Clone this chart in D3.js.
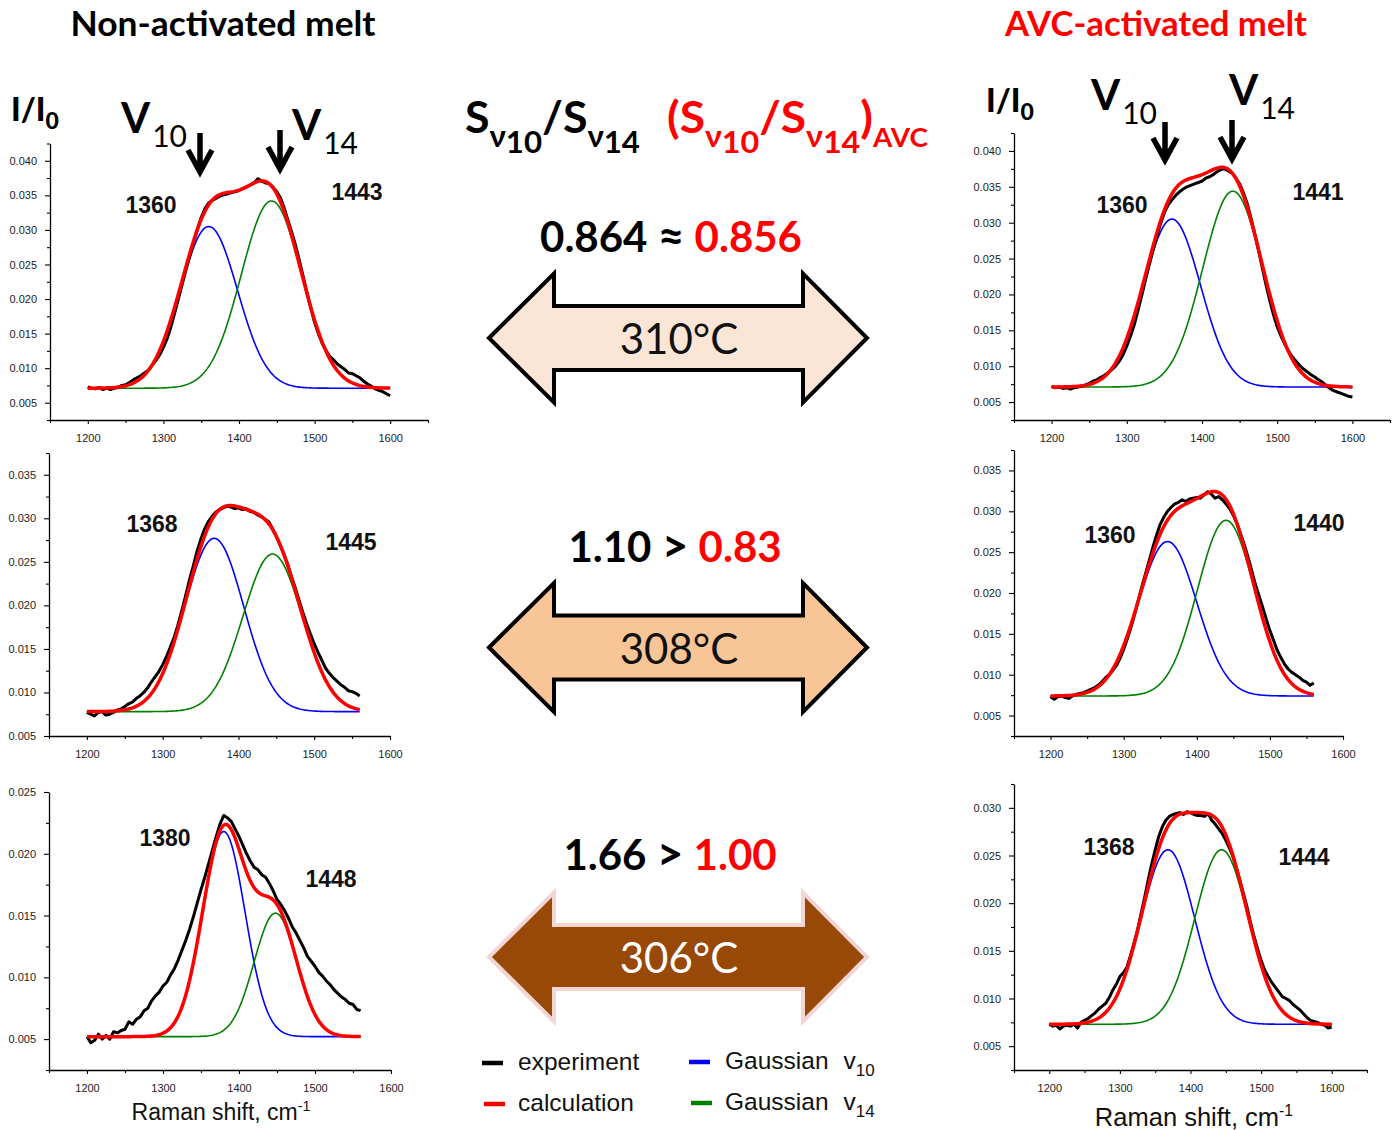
<!DOCTYPE html>
<html>
<head>
<meta charset="utf-8">
<script src="https://cdn.jsdelivr.net/npm/d3@7"></script>
<style>
  body { margin: 0; background: #fff; }
  svg { display: block; }
  .tick text { font-family: "Liberation Sans", Arial, sans-serif; font-size: 11px; fill: #222; }
</style>
</head>
<body>
<svg id="fig" width="1399" height="1130"></svg>
<script>
// Raman spectra, I/I0 sampled every 5 cm-1 starting at 1200 cm-1
const shiftStart = 1200;
const shiftStep = 5;

// non-activated melt: 310, 308, 306 °C
const expNon310 = [
  .0073,.0071,.0070,.0072,.0069,.0071,.0069,.0071,.0072,.0075,
  .0076,.0079,.0083,.0086,.0089,.0093,.0097,.0104,.0111,.0119,
  .0130,.0143,.0160,.0180,.0201,.0222,.0243,.0262,.0282,.0301,
  .0318,.0331,.0339,.0343,.0346,.0349,.0351,.0352,.0354,.0355,
  .0357,.0360,.0362,.0365,.0368,.0374,.0371,.0368,.0367,.0362,
  .0355,.0346,.0331,.0313,.0296,.0277,.0255,.0232,.0209,.0187,
  .0166,.0150,.0136,.0126,.0117,.0112,.0106,.0102,.0098,.0093,
  .0092,.0089,.0086,.0081,.0077,.0074,.0070,.0068,.0066,.0063,
  .0060];
const expNon308 = [
  .0077,.0075,.0073,.0077,.0078,.0074,.0075,.0077,.0080,.0081,
  .0084,.0087,.0089,.0093,.0096,.0100,.0105,.0112,.0118,.0124,
  .0132,.0141,.0152,.0163,.0177,.0193,.0210,.0228,.0244,.0261,
  .0275,.0287,.0296,.0302,.0307,.0310,.0312,.0314,.0313,.0311,
  .0312,.0310,.0311,.0308,.0307,.0304,.0302,.0299,.0296,.0288,
  .0279,.0269,.0259,.0247,.0233,.0220,.0206,.0192,.0179,.0167,
  .0156,.0146,.0137,.0128,.0122,.0117,.0113,.0109,.0106,.0102,
  .0101,.0099,.0096];
const expNon306 = [
  .0052,.0047,.0049,.0054,.0050,.0053,.0050,.0056,.0055,.0057,
  .0058,.0064,.0062,.0066,.0068,.0073,.0075,.0081,.0085,.0088,
  .0093,.0096,.0102,.0107,.0114,.0122,.0130,.0139,.0149,.0160,
  .0171,.0181,.0192,.0203,.0214,.0224,.0231,.0229,.0226,.0220,
  .0214,.0207,.0200,.0194,.0189,.0187,.0183,.0181,.0176,.0170,
  .0163,.0159,.0154,.0148,.0141,.0136,.0130,.0124,.0117,.0113,
  .0109,.0104,.0101,.0097,.0094,.0090,.0087,.0084,.0082,.0079,
  .0078,.0074,.0073];

// AVC-activated melt: 310, 308, 306 °C
const expAvc310 = [
  .0072,.0070,.0071,.0069,.0070,.0068,.0070,.0071,.0072,.0074,
  .0076,.0079,.0081,.0084,.0087,.0091,.0095,.0100,.0107,.0116,
  .0128,.0142,.0158,.0178,.0199,.0221,.0242,.0262,.0281,.0299,
  .0314,.0325,.0332,.0338,.0343,.0347,.0350,.0352,.0354,.0356,
  .0358,.0362,.0364,.0367,.0371,.0374,.0375,.0372,.0369,.0362,
  .0354,.0342,.0327,.0307,.0285,.0262,.0238,.0214,.0192,.0172,
  .0155,.0142,.0131,.0121,.0113,.0107,.0101,.0096,.0092,.0088,
  .0085,.0081,.0078,.0073,.0069,.0066,.0064,.0062,.0060,.0058,
  .0057];
const expAvc308 = [
  .0073,.0070,.0073,.0074,.0072,.0071,.0074,.0076,.0077,.0078,
  .0080,.0082,.0084,.0087,.0091,.0096,.0100,.0105,.0111,.0120,
  .0131,.0144,.0158,.0174,.0191,.0208,.0224,.0240,.0256,.0271,
  .0284,.0293,.0300,.0305,.0309,.0311,.0314,.0312,.0315,.0316,
  .0317,.0316,.0320,.0324,.0321,.0316,.0318,.0314,.0309,.0303,
  .0295,.0285,.0272,.0259,.0244,.0228,.0211,.0197,.0183,.0168,
  .0154,.0142,.0130,.0121,.0113,.0107,.0103,.0100,.0097,.0093,
  .0091,.0087,.0090];
const expAvc306 = [
  .0073,.0071,.0072,.0068,.0071,.0072,.0071,.0073,.0069,.0075,
  .0077,.0079,.0082,.0085,.0089,.0092,.0095,.0101,.0109,.0115,
  .0123,.0127,.0133,.0145,.0158,.0172,.0189,.0206,.0224,.0241,
  .0256,.0270,.0280,.0287,.0291,.0293,.0294,.0295,.0293,.0296,
  .0295,.0293,.0292,.0292,.0291,.0294,.0287,.0283,.0278,.0273,
  .0266,.0258,.0249,.0237,.0224,.0210,.0196,.0180,.0165,.0152,
  .0140,.0130,.0123,.0117,.0112,.0107,.0102,.0100,.0098,.0094,
  .0091,.0088,.0084,.0080,.0077,.0076,.0075,.0073,.0072,.0069,
  .0070];

// Gaussian decomposition: peak positions (cm-1), heights above baseline, widths (sigma, cm-1)
const peakNon10 = [1360, 1368, 1380];
const peakNon14 = [1443, 1445, 1448];
const peakAvc10 = [1360, 1360, 1368];
const peakAvc14 = [1441, 1440, 1444];
const ampNon10 = [0.0234, 0.0199, 0.0166];
const ampNon14 = [0.0271, 0.0181, 0.0100];
const ampAvc10 = [0.0234, 0.0189, 0.0183];
const ampAvc14 = [0.0273, 0.0215, 0.0183];
const baseNon = [0.0071, 0.0078, 0.0052];
const baseAvc = [0.0071, 0.0074, 0.0073];
const sigmaNon10 = [38, 39, 28];
const sigmaNon14 = [40, 39, 28];
const sigmaAvc10 = [38, 40, 38];
const sigmaAvc14 = [40, 39, 38];
const fitEndNon = [1600, 1560, 1560];
const fitEndAvc = [1600, 1560, 1600];

// area ratios S(v10)/S(v14) and temperatures
const ratioNon = ["0.864", "1.10", "1.66"];
const ratioAvc = ["0.856", "0.83", "1.00"];
const ratioSign = ["\u2248", ">", ">"];
const temps = ["310\u00B0C", "308\u00B0C", "306\u00B0C"];

// axis ranges per panel
const yDomNon = [[0.0025, 0.0425], [0.005, 0.0375], [0.0025, 0.025]];
const yDomAvc = [[0.0025, 0.0425], [0.0025, 0.0375], [0.0025, 0.0325]];
const xDomNon = [[1150, 1650], [1150, 1600], [1150, 1600]];
const xDomAvc = [[1150, 1650], [1150, 1600], [1150, 1650]];
const xTickMajor = [1200, 1300, 1400, 1500, 1600];

const CAL = "Lato, 'Open Sans', sans-serif";
const ARIAL = "'Liberation Sans', Arial, sans-serif";
const svg = d3.select("#fig");

// pixel frames of the six panels
const frameNon = [
  {x: [50, 428], y: [420, 143.5]},
  {x: [49, 390], y: [736, 453]},
  {x: [49, 391], y: [1070, 792]}
];
const frameAvc = [
  {x: [1014, 1390], y: [420, 133]},
  {x: [1014, 1343], y: [736, 450]},
  {x: [1014, 1367], y: [1070, 784]}
];
const labelPosNon = [[[151, 213], [357, 200]], [[152, 532], [351, 550]], [[165, 846], [331, 887]]];
const labelPosAvc = [[[1122, 213], [1318, 200]], [[1110, 543], [1319, 531]], [[1109, 855], [1304, 865]]];

function gauss(c, a, s) {
  return v => a * Math.exp(-((v - c) * (v - c)) / (2 * s * s));
}

function drawPanel(frame, xDom, yDom, exp, base, c10, c14, a10, a14, s10, s14, fitEnd, labelPos) {
  const g = svg.append("g");
  const x = d3.scaleLinear().domain(xDom).range(frame.x);
  const y = d3.scaleLinear().domain(yDom).range(frame.y);

  const k0 = Math.ceil(yDom[0] / 0.0025 - 1e-6), k1 = Math.floor(yDom[1] / 0.0025 + 1e-6);
  const ks = d3.range(k0, k1 + 1);
  const yMajor = ks.filter(k => k % 2 === 0).map(k => k * 0.0025);
  const yMinor = ks.filter(k => k % 2 !== 0).map(k => k * 0.0025);
  const xMinor = d3.range(xDom[0], xDom[1] + 1, 100);

  const ax = g.append("g").attr("transform", `translate(0,${frame.y[0]})`);
  ax.call(d3.axisBottom(x).tickValues(xMinor).tickSize(3).tickSizeOuter(0).tickFormat(""));
  ax.append("g").call(d3.axisBottom(x).tickValues(xTickMajor).tickSize(4).tickPadding(10).tickFormat(d3.format("d")))
    .select(".domain").remove();
  const ay = g.append("g").attr("transform", `translate(${frame.x[0]},0)`);
  ay.call(d3.axisLeft(y).tickValues(yMinor).tickSize(3).tickSizeOuter(0).tickFormat(""));
  ay.append("g").call(d3.axisLeft(y).tickValues(yMajor).tickSize(5).tickPadding(8).tickFormat(d3.format(".3f")))
    .select(".domain").remove();
  g.selectAll(".domain").attr("stroke", "#000").attr("stroke-width", 1.3);
  g.selectAll(".tick line").attr("stroke", "#000").attr("stroke-width", 1.1);

  const line = d3.line().x(d => x(d[0])).y(d => y(d[1]));
  const grid = d3.range(1200, fitEnd + 0.1, 2);
  const f10 = gauss(c10, a10, s10), f14 = gauss(c14, a14, s14);
  const blue = grid.map(v => [v, base + f10(v)]);
  const green = grid.map(v => [v, base + f14(v)]);
  const calc = grid.map(v => [v, base + f10(v) + f14(v)]);
  const meas = exp.map((v, i) => [shiftStart + i * shiftStep, v]);

  g.append("path").attr("d", line(blue)).attr("fill", "none").attr("stroke", "#0000ff").attr("stroke-width", 1.6);
  g.append("path").attr("d", line(green)).attr("fill", "none").attr("stroke", "#008000").attr("stroke-width", 1.6);
  g.append("path").attr("d", line(meas)).attr("fill", "none").attr("stroke", "#000").attr("stroke-width", 3)
    .attr("stroke-linejoin", "round");
  g.append("path").attr("d", line(calc)).attr("fill", "none").attr("stroke", "#ff0000").attr("stroke-width", 3.5)
    .attr("stroke-linejoin", "round");

  [c10, c14].forEach((c, i) => {
    g.append("text").attr("x", labelPos[i][0]).attr("y", labelPos[i][1])
      .attr("text-anchor", "middle").attr("font-family", ARIAL).attr("font-weight", "bold")
      .attr("font-size", 23).attr("fill", "#111").text(c);
  });
}

for (let i = 0; i < 3; i++) {
  drawPanel(frameNon[i], xDomNon[i], yDomNon[i], [expNon310, expNon308, expNon306][i], baseNon[i],
    peakNon10[i], peakNon14[i], ampNon10[i], ampNon14[i], sigmaNon10[i], sigmaNon14[i], fitEndNon[i], labelPosNon[i]);
  drawPanel(frameAvc[i], xDomAvc[i], yDomAvc[i], [expAvc310, expAvc308, expAvc306][i], baseAvc[i],
    peakAvc10[i], peakAvc14[i], ampAvc10[i], ampAvc14[i], sigmaAvc10[i], sigmaAvc14[i], fitEndAvc[i], labelPosAvc[i]);
}

// column titles
svg.append("text").attr("x", 223).attr("y", 36).attr("text-anchor", "middle")
  .attr("font-family", CAL).attr("font-weight", "bold").attr("font-size", 35).attr("fill", "#000")
  .attr("textLength", 305).attr("lengthAdjust", "spacingAndGlyphs")
  .text("Non-activated melt");
svg.append("text").attr("x", 1156).attr("y", 36).attr("text-anchor", "middle")
  .attr("font-family", CAL).attr("font-weight", "bold").attr("font-size", 35).attr("fill", "#ff0000")
  .attr("textLength", 302).attr("lengthAdjust", "spacingAndGlyphs")
  .text("AVC-activated melt");

// I/I0 labels
function intensityLabel(x0, y0) {
  const t = svg.append("text").attr("x", x0).attr("y", y0).attr("font-family", CAL)
    .attr("font-weight", "900").attr("font-size", 32).attr("fill", "#000");
  t.append("tspan").text("I/I");
  t.append("tspan").attr("font-size", 23).attr("dy", 8).text("0");
}
intensityLabel(11, 121);
intensityLabel(986, 112);

// band labels with pointing arrows
function bandLabel(x0, y0, sub) {
  const t = svg.append("text").attr("x", x0).attr("y", y0).attr("font-family", CAL).attr("fill", "#000");
  t.append("tspan").attr("font-weight", "bold").attr("font-size", 42).text("V");
  t.append("tspan").attr("font-size", 30).attr("dy", 14).attr("dx", 2).text(sub);
}
bandLabel(121, 133, "10");
bandLabel(292, 140, "14");
bandLabel(1091, 110, "10");
bandLabel(1229, 105, "14");

function downArrow(x0, y0, y1) {
  svg.append("path")
    .attr("d", `M${x0},${y0}V${y1 - 2}M${x0 - 12},${y1 - 22}L${x0},${y1}L${x0 + 12},${y1 - 22}`)
    .attr("fill", "none").attr("stroke", "#000").attr("stroke-width", 5.5).attr("stroke-linejoin", "miter");
}
downArrow(200, 133, 172);
downArrow(280, 130, 169);
downArrow(1165, 122, 160);
downArrow(1232, 120, 159);

// ratio header
function ratioHeader(x0, y0, color, paren, width) {
  const t = svg.append("text").attr("x", x0).attr("y", y0).attr("font-family", CAL)
    .attr("font-weight", "bold").attr("font-size", 43).attr("fill", color)
    .attr("textLength", width).attr("lengthAdjust", "spacingAndGlyphs");
  if (paren) t.append("tspan").text("(");
  t.append("tspan").text("S");
  t.append("tspan").attr("font-size", 30).attr("dy", 14).text("\u03BD");
  t.append("tspan").attr("font-size", 30).attr("dy", 6).text("10");
  t.append("tspan").attr("dy", -20).text("/S");
  t.append("tspan").attr("font-size", 30).attr("dy", 14).text("\u03BD");
  t.append("tspan").attr("font-size", 30).attr("dy", 6).text("14");
  if (paren) {
    t.append("tspan").attr("dy", -20).text(")");
    t.append("tspan").attr("font-size", 26).attr("dy", 14).text("AVC");
  }
}
ratioHeader(465, 133, "#000", false, 175);
ratioHeader(667, 133, "#ff0000", true, 261);

// ratio comparison and temperature arrows
const rowY = [338, 647.5, 957];
const ratioBase = [252, 562, 870];
const ratioCx = [671, 675, 670];
const arrowFill = ["#fbe5d6", "#f8c597", "#984807"];
const arrowStroke = ["#000", "#000", "#f2d6d3"];
const tempFill = ["#111", "#111", "#fff"];

for (let i = 0; i < 3; i++) {
  const t = svg.append("text").attr("x", ratioCx[i]).attr("y", ratioBase[i]).attr("text-anchor", "middle")
    .attr("font-family", CAL).attr("font-weight", "bold").attr("font-size", 42);
  t.append("tspan").attr("fill", "#000").text(ratioNon[i] + " ");
  t.append("tspan").attr("fill", "#000").attr("font-size", 46).text(ratioSign[i]);
  t.append("tspan").attr("fill", "#000").text(" ");
  t.append("tspan").attr("fill", "#ff0000").text(ratioAvc[i]);

  const cy = rowY[i];
  const pts = [
    [489, cy], [554, cy - 64.5], [554, cy - 32], [803, cy - 32], [803, cy - 64.5], [867, cy],
    [803, cy + 64.5], [803, cy + 32], [554, cy + 32], [554, cy + 64.5]
  ];
  svg.append("path").attr("d", "M" + pts.map(p => p.join(",")).join("L") + "Z")
    .attr("fill", arrowFill[i]).attr("stroke", arrowStroke[i]).attr("stroke-width", 4)
    .attr("stroke-linejoin", "miter");
  svg.append("text").attr("x", 679).attr("y", cy + 16).attr("text-anchor", "middle")
    .attr("font-family", CAL).attr("font-size", 42).attr("fill", tempFill[i]).text(temps[i]);
}

// legend
const legendItems = [
  {x: 482, y: 1063, color: "#000", label: "experiment", sub: null},
  {x: 484, y: 1104, color: "#ff0000", label: "calculation", sub: null},
  {x: 689, y: 1062, color: "#0000ff", label: "Gaussian", sub: "10"},
  {x: 691, y: 1103, color: "#008000", label: "Gaussian", sub: "14"}
];
legendItems.forEach((d, i) => {
  svg.append("line").attr("x1", d.x).attr("x2", d.x + 21).attr("y1", d.y).attr("y2", d.y)
    .attr("stroke", d.color).attr("stroke-width", 4.5);
  const t = svg.append("text").attr("x", i < 2 ? 518 : 725).attr("y", d.y + 7).attr("font-family", ARIAL)
    .attr("font-size", 24.5).attr("fill", "#111");
  t.append("tspan").text(d.label);
  if (d.sub) {
    t.append("tspan").attr("dx", 15).text("v");
    t.append("tspan").attr("font-size", 17).attr("dy", 7).text(d.sub);
  }
});

// x axis titles
function shiftTitle(cx, y0, size) {
  const t = svg.append("text").attr("x", cx).attr("y", y0).attr("text-anchor", "middle")
    .attr("font-family", ARIAL).attr("font-size", size).attr("fill", "#111");
  t.append("tspan").text("Raman shift, cm");
  t.append("tspan").attr("font-size", size * 0.62).attr("dy", -size * 0.4).text("-1");
}
shiftTitle(221, 1120, 23);
shiftTitle(1194, 1126, 25.5);
</script>
</body>
</html>
